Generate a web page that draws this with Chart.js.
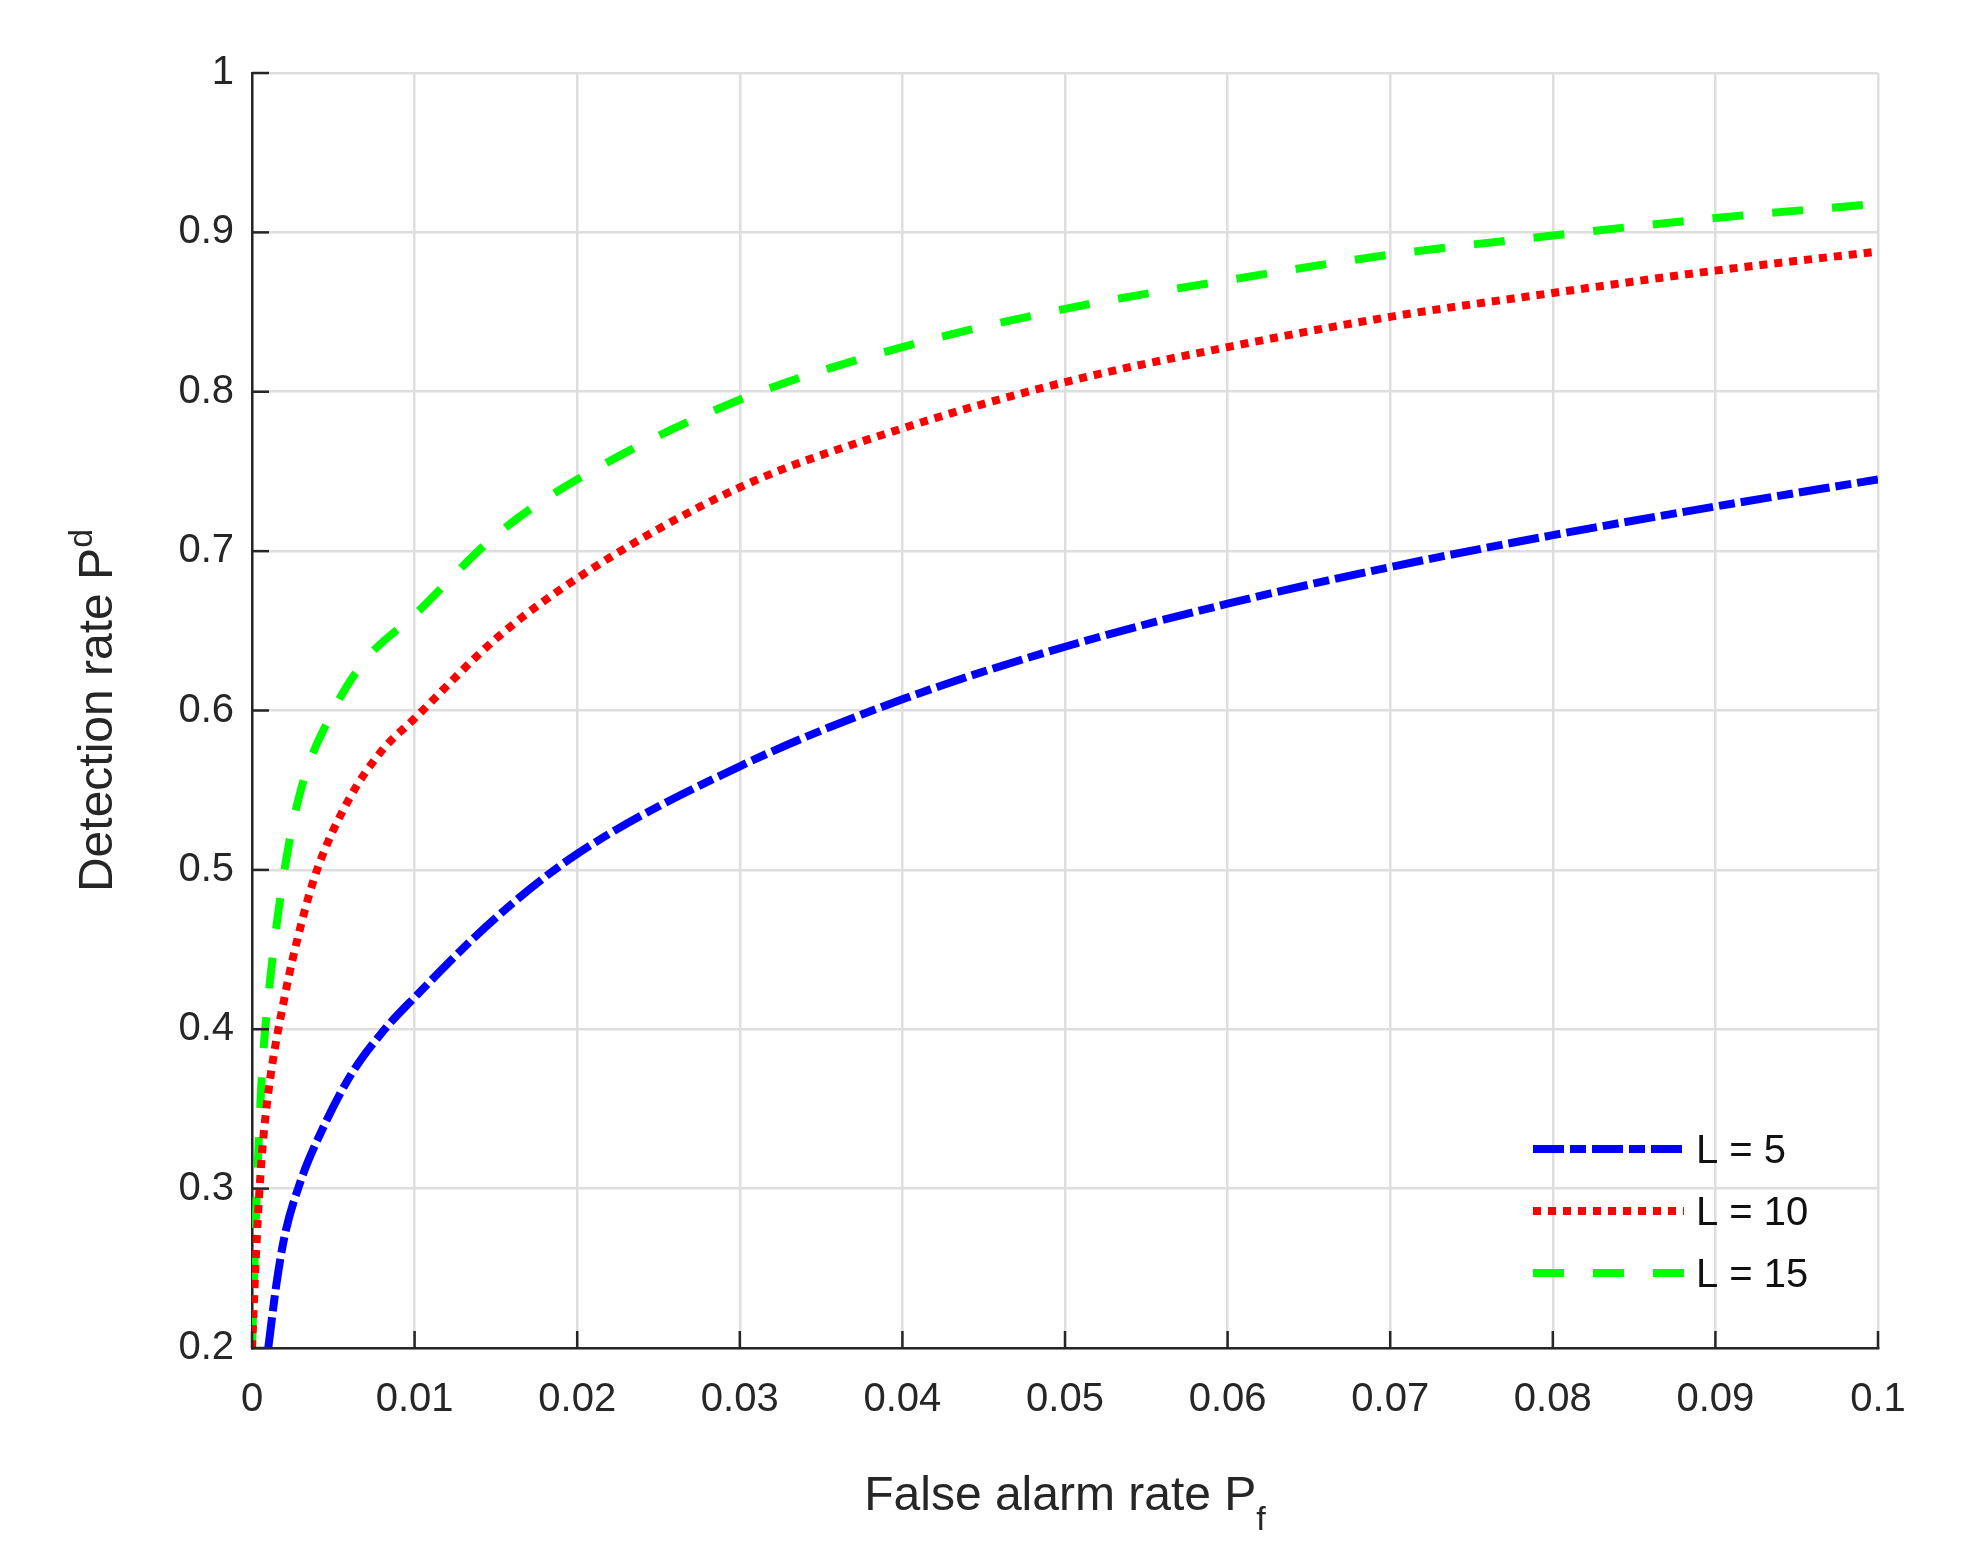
<!DOCTYPE html>
<html><head><meta charset="utf-8">
<script src="https://cdn.jsdelivr.net/npm/chart.js@4"></script>
<style>html,body{margin:0;padding:0;background:#fff}#c{display:block}</style>
</head><body>
<canvas id="c" width="1964" height="1548"></canvas>
<script>
const labels = ["L = 5", "L = 10", "L = 15"];
const xL5  = [0.001,0.0015,0.002,0.003,0.004,0.006,0.008,0.01,0.015,0.02,0.03,0.04,0.05,0.06,0.07,0.08,0.09,0.1];
const yL5  = [0.2,0.24,0.27,0.305,0.33,0.37,0.398,0.42,0.47,0.51,0.565,0.607,0.64,0.667,0.69,0.71,0.728,0.745];
const xL10 = [0,0.0003,0.0006,0.001,0.002,0.003,0.004,0.006,0.008,0.01,0.015,0.02,0.03,0.04,0.05,0.06,0.07,0.08,0.09,0.1];
const yL10 = [0.2,0.27,0.32,0.36,0.42,0.465,0.5,0.545,0.575,0.595,0.645,0.683,0.74,0.777,0.806,0.828,0.847,0.862,0.876,0.888];
const xL15 = [0,0.0003,0.0006,0.001,0.002,0.003,0.005,0.007,0.01,0.015,0.02,0.03,0.04,0.05,0.06,0.07,0.08,0.09,0.1];
const yL15 = [0.2,0.3,0.37,0.42,0.5,0.55,0.6,0.632,0.66,0.71,0.745,0.795,0.828,0.852,0.87,0.886,0.898,0.909,0.918];
const xTicks = [0,0.01,0.02,0.03,0.04,0.05,0.06,0.07,0.08,0.09,0.1];
const yTicks = [0.2,0.3,0.4,0.5,0.6,0.7,0.8,0.9,1];

const pts = (xs, ys) => xs.map((x, i) => ({x, y: ys[i]}));
const FONT = 'Helvetica, "Liberation Sans", Arial, sans-serif';

const extras = {
  id: 'extras',
  afterDraw(chart) {
    const ctx = chart.ctx, a = chart.chartArea;
    ctx.save();
    // legend
    chart.data.datasets.forEach((ds, i) => {
      const y = 1149 + i * 62;
      ctx.strokeStyle = ds.borderColor; ctx.lineWidth = ds.borderWidth;
      ctx.setLineDash(ds.borderDash); ctx.beginPath();
      ctx.moveTo(1533, y); ctx.lineTo(1684, y); ctx.stroke();
      ctx.setLineDash([]);
      ctx.fillStyle = '#111'; ctx.font = '40px ' + FONT;
      ctx.textBaseline = 'middle'; ctx.textAlign = 'left';
      ctx.fillText(ds.label, 1696, y + 3);
    });
    // inward ticks
    ctx.strokeStyle = '#262626'; ctx.lineWidth = 2.5;
    const xs = chart.scales.x, ys = chart.scales.y;
    xTicks.forEach(v => { const p = xs.getPixelForValue(v); ctx.beginPath(); ctx.moveTo(p, a.bottom); ctx.lineTo(p, a.bottom - 17); ctx.stroke(); });
    yTicks.forEach(v => { const p = ys.getPixelForValue(v); ctx.beginPath(); ctx.moveTo(a.left, p); ctx.lineTo(a.left + 17, p); ctx.stroke(); });
    // axis titles with subscripts
    ctx.fillStyle = '#262626'; ctx.textBaseline = 'alphabetic';
    ctx.font = '48px ' + FONT;
    const t1 = 'False alarm rate P';
    ctx.font = '48px ' + FONT; const w1 = ctx.measureText(t1).width;
    ctx.font = '34px ' + FONT; const ws = ctx.measureText('f').width;
    let sx = (a.left + a.right) / 2 - (w1 + ws) / 2;
    ctx.font = '48px ' + FONT; ctx.textAlign = 'left';
    ctx.fillText(t1, sx, 1510);
    ctx.font = '34px ' + FONT; ctx.fillText('f', sx + w1, 1530);
    ctx.translate(112, (a.top + a.bottom) / 2); ctx.rotate(-Math.PI / 2);
    const t2 = 'Detection rate P';
    ctx.font = '48px ' + FONT; const w2 = ctx.measureText(t2).width;
    ctx.font = '34px ' + FONT; const wd = ctx.measureText('d').width;
    sx = -(w2 + wd) / 2;
    ctx.font = '48px ' + FONT; ctx.fillText(t2, sx, 0);
    ctx.font = '34px ' + FONT; ctx.fillText('d', sx + w2, -20);
    ctx.restore();
  }
};

new Chart(document.getElementById('c'), {
  type: 'line',
  data: { datasets: [
    { label: labels[0], data: pts(xL5, yL5), borderColor: '#0000ff', borderWidth: 8, borderDash: [31, 6, 16, 6] },
    { label: labels[1], data: pts(xL10, yL10), borderColor: '#ff0000', borderWidth: 8, borderDash: [8, 7] },
    { label: labels[2], data: pts(xL15, yL15), borderColor: '#00ff00', borderWidth: 8, borderDash: [31, 29] }
  ].map(d => Object.assign(d, { pointRadius: 0, fill: false, cubicInterpolationMode: 'monotone' })) },
  options: {
    responsive: false, animation: false, devicePixelRatio: 1,
    layout: { padding: { top: 73, right: 86, left: 0, bottom: 0 } },
    plugins: { legend: { display: false }, tooltip: { enabled: false } },
    scales: {
      x: { type: 'linear', min: 0, max: 0.1,
        afterBuildTicks: s => { s.ticks = xTicks.map(v => ({ value: v })); },
        afterFit: s => { s.height = 200; },
        grid: { color: '#dedede', lineWidth: 2.5, tickLength: 0, drawTicks: false },
        border: { color: '#262626', width: 2.5 },
        ticks: { padding: 28, color: '#262626', font: { size: 40, family: FONT }, maxRotation: 0, callback: v => String(Math.round(v * 100) / 100) } },
      y: { type: 'linear', min: 0.2, max: 1,
        afterBuildTicks: s => { s.ticks = yTicks.map(v => ({ value: v })); },
        afterFit: s => { s.width = 252; },
        grid: { color: '#dedede', lineWidth: 2.5, tickLength: 0, drawTicks: false },
        border: { color: '#262626', width: 2.5 },
        ticks: { padding: 18, color: '#262626', font: { size: 40, family: FONT }, callback: v => String(Math.round(v * 10) / 10) } }
    }
  },
  plugins: [extras]
});
</script>
</body></html>
